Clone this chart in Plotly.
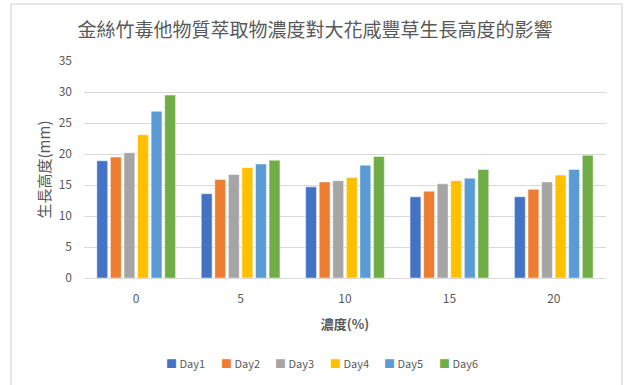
import plotly.graph_objects as go

categories = ["0", "5", "10", "15", "20"]
series_names = ["Day1", "Day2", "Day3", "Day4", "Day5", "Day6"]
day1 = [18.9, 13.6, 14.7, 13.1, 13.1]
day2 = [19.5, 15.9, 15.5, 14.0, 14.3]
day3 = [20.2, 16.7, 15.7, 15.2, 15.5]
day4 = [23.1, 17.8, 16.2, 15.7, 16.6]
day5 = [26.9, 18.4, 18.2, 16.1, 17.5]
day6 = [29.5, 19.0, 19.6, 17.5, 19.8]
series_values = [day1, day2, day3, day4, day5, day6]
colors = ["#4472C4", "#ED7D31", "#A5A5A5", "#FFC000", "#5B9BD5", "#70AD47"]

title_text = "金絲竹毒他物質萃取物濃度對大花咸豐草生長高度的影響"
x_title = "濃度(%)"
y_title = "生長高度(mm)"

W, H = 624, 385
L, R, T, B = 84, 18, 61, 107
pw, ph = W - L - R, H - T - B

fig = go.Figure()
for name, vals, c in zip(series_names, series_values, colors):
    fig.add_trace(go.Bar(
        x=categories, y=vals, name=name, showlegend=False,
        marker=dict(color=c, line=dict(color="rgba(255,255,255,0.6)", width=0.8)),
    ))

font_cjk = "Noto Sans CJK TC, Noto Sans, sans-serif"
grey = "#595959"

def px_to_paper_x(px):
    return (px - L) / pw

def px_to_paper_y(py):
    return (H - B - py) / ph

# legend drawn as text entries
legend_start, legend_step, legend_y = 164, 54.5, 363
annotations = []
for i, (name, c) in enumerate(zip(series_names, colors)):
    annotations.append(dict(
        xref="paper", yref="paper",
        x=px_to_paper_x(legend_start + i * legend_step), y=px_to_paper_y(legend_y),
        xanchor="left", yanchor="middle", showarrow=False,
        text=f"<span style='color:{c}'>■</span> {name}",
        font=dict(size=11, color=grey, family=font_cjk),
    ))

fig.update_layout(
    width=W, height=H,
    margin=dict(l=L, r=R, t=T, b=B),
    paper_bgcolor="white", plot_bgcolor="white",
    barmode="group", bargap=0.22, bargroupgap=0.2,
    font=dict(family=font_cjk, color=grey, size=12),
    title=dict(text=title_text, x=0.505, xanchor="center", y=1 - 30 / H, yanchor="middle",
               font=dict(size=19, color=grey, family=font_cjk)),
    xaxis=dict(
        type="category", showgrid=False, showline=True, linecolor="#d9d9d9", linewidth=1,
        ticks="", tickfont=dict(size=12, color=grey), ticklabelstandoff=10,
        title=dict(text="<b>" + x_title + "</b>", font=dict(size=13, color=grey), standoff=14),
    ),
    yaxis=dict(
        range=[0, 35], dtick=5, showgrid=True, gridcolor="#d9d9d9", gridwidth=1,
        zeroline=False, showline=False, ticks="", tickfont=dict(size=12, color=grey),
        ticklabelstandoff=11,
        title=dict(text=y_title, font=dict(size=15, color=grey), standoff=4),
    ),
    showlegend=False,
    annotations=annotations,
    shapes=[dict(type="rect", xref="paper", yref="paper",
                 x0=px_to_paper_x(11), x1=px_to_paper_x(622),
                 y0=px_to_paper_y(400), y1=px_to_paper_y(4),
                 line=dict(color="#d0d0d0", width=1), fillcolor="rgba(0,0,0,0)", layer="below")],
)

fig.write_html("out.html")
